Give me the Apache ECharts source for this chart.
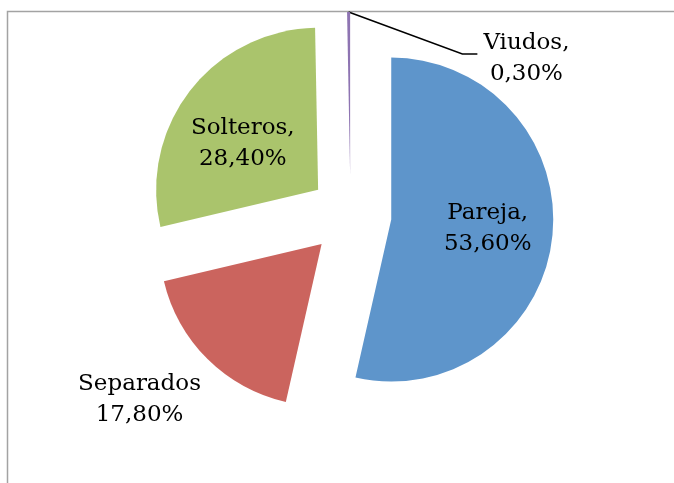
<!DOCTYPE html>
<html>
<head>
<meta charset="utf-8">
<script src="https://cdn.jsdelivr.net/npm/echarts@6/dist/echarts.min.js"></script>
<style>
  html, body { margin: 0; padding: 0; background: #ffffff; }
  #chart { width: 674px; height: 483px; }
</style>
</head>
<body>
<div id="chart"></div>
<script>
// Estado civil: share of each group (%)
const categories = ['Pareja', 'Separados', 'Solteros', 'Viudos'];
const values = [53.6, 17.8, 28.4, 0.3];
const valueLabels = ['53,60%', '17,80%', '28,40%', '0,30%'];
const colors = ['#5E95CB', '#CB645E', '#AAC46C', '#8E74B2'];
const labelPositions = ['inside', 'outside', 'inside', 'outside'];

// Nudges applied to the default label positions (px)
const labelShift = [[13, 0], [39, 30], [-9, 5], [256, 62]];

const pieCenter = [350.5, 215];
const pieRadius = 162;
const explode = 41;

const chart = echarts.init(document.getElementById('chart'), null, { renderer: 'canvas' });

const labelFont = { fontFamily: 'DejaVu Serif', fontSize: 23, lineHeight: 31, color: '#000000' };

// Mid angle of every slice (clockwise from 12 o'clock), used to push it outwards
const total = values.reduce((a, b) => a + b, 0);
let acc = 0;
const midAngles = values.map(v => {
  const m = (acc + v / 2) / total * Math.PI * 2;
  acc += v;
  return m;
});

function labelLayout(params) {
  const i = params.dataIndex;
  const r = params.labelRect;
  const cx = r.x + r.width / 2 + labelShift[i][0];
  const cy = r.y + r.height / 2 + labelShift[i][1];
  const out = { x: cx, y: cy, align: 'center', verticalAlign: 'middle' };
  if (params.labelLinePoints) {
    const left = cx - r.width / 2;
    const p0 = params.labelLinePoints[0];
    out.labelLinePoints = [
      [p0[0], p0[1]],
      [left - 21, cy - 5],
      [left - 6, cy - 5]
    ];
  }
  return out;
}

// One pie per slice: the same angles everywhere, only slice k is painted,
// and that pie's centre is moved out along the slice's mid angle.
const series = categories.map((_, k) => ({
  type: 'pie',
  center: [
    pieCenter[0] + explode * Math.sin(midAngles[k]),
    pieCenter[1] - explode * Math.cos(midAngles[k])
  ],
  radius: pieRadius,
  startAngle: 90,
  clockwise: true,
  silent: true,
  avoidLabelOverlap: false,
  emphasis: { disabled: true },
  itemStyle: { borderWidth: 0 },
  label: Object.assign({
    align: 'center',
    formatter: function (p) {
      const sep = p.dataIndex === 1 ? '' : ',';
      return p.name + sep + '\n' + valueLabels[p.dataIndex];
    }
  }, labelFont),
  labelLine: { lineStyle: { color: '#000000', width: 1.5 } },
  labelLayout: labelLayout,
  data: categories.map((name, i) => ({
    name: name,
    value: values[i],
    itemStyle: { color: i === k ? colors[i] : 'rgba(0,0,0,0)' },
    label: { show: i === k, position: labelPositions[i] },
    labelLine: { show: i === k && i === 3 }
  }))
}));

chart.setOption({
  animation: false,
  graphic: [{
    type: 'rect',
    shape: { x: 7.5, y: 11.5, width: 720, height: 520 },
    style: { fill: 'none', stroke: '#A3A3A3', lineWidth: 1.5 },
    silent: true
  }],
  series: series
});
</script>
</body>
</html>
